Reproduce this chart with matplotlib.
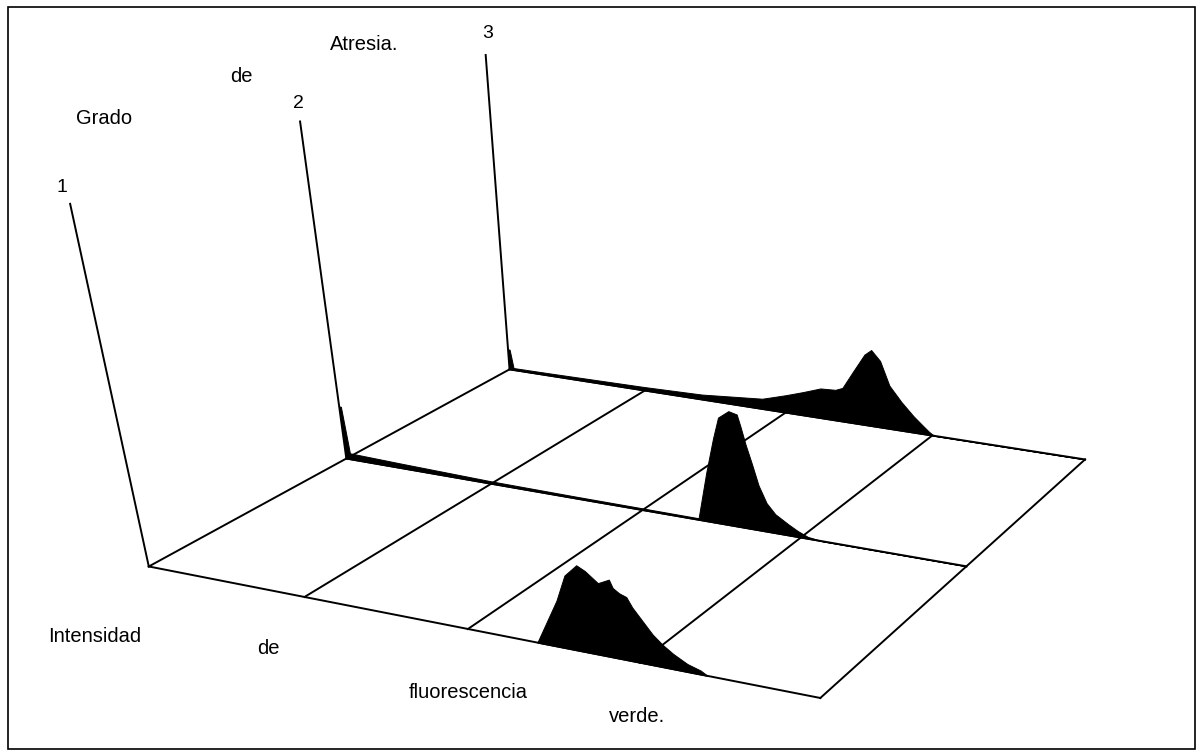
import numpy as np
import matplotlib
matplotlib.use('Agg')
import matplotlib.pyplot as plt
from mpl_toolkits.mplot3d.art3d import Poly3DCollection
from matplotlib.patches import Rectangle

# ---------------- data ----------------
grades = [1, 2, 3]                      # grado de atresia (depth axis)
grade_labels = ["1", "2", "3"]
grid_x = [0, 256, 512, 768, 1024]       # intensidad de fluorescencia (channels)
z_top = 100                             # height of the vertical (count) axes

# histogram, grade 1
h1_x = [617, 650, 664, 682, 694, 712, 728, 733, 742, 752, 760, 774, 788, 802, 817, 837, 856, 866]
h1_y = [0, 13.8, 21.6, 25.2, 24, 21.2, 22.8, 20.6, 19.4, 18.7, 16, 12.6, 9.2, 6.7, 4.6, 2.4, 1.2, 0]

# histogram, grade 2
h2_x = [0, 3, 8, 100, 256, 400, 600, 604, 617, 628, 636, 652, 665, 671, 679, 689, 700, 713, 727,
        748, 763, 779, 802, 1024]
h2_y = [17, 17, 2, 1.5, 0.8, 0.6, 0.5, 0.5, 15.4, 26.2, 32.8, 35.2, 34.6, 31.1, 26, 20.5, 14.1, 9,
        6, 3.5, 1.9, 0.6, 0, 0]

# histogram, grade 3
h3_x = [0, 3, 8, 80, 256, 361, 470, 511, 542, 572, 598, 610, 627, 645, 656, 672, 690, 712, 734,
        751, 762, 771, 1024]
h3_y = [7, 7, 0.7, 0.8, 1.2, 1.7, 3.5, 5.9, 7.9, 10, 10.3, 11.3, 17.2, 23.3, 25.1, 22, 14.4, 9.6,
        5.5, 2.8, 1.1, 0, 0]

# ---------------- figure / camera ----------------
W, H = 1203, 755
fig = plt.figure(figsize=(W / 100, H / 100), dpi=100)
fig.patch.set_facecolor('white')

L_px, left_px, bottom_px = 425.44, 525.83, -1545.47
ax = fig.add_axes([left_px / W, bottom_px / H, L_px / W, L_px / H], projection='3d')
ax.set_axis_off()
ax.view_init(elev=56.73364, azim=-65.73287, roll=-0.86667)
ax.set_proj_type('persp', focal_length=float(np.exp(-0.27137)))
ax.set_box_aspect((1, float(np.exp(0.00553)), float(np.exp(-1.07138))))
cx, cz = 715.45032, -1169.88457
ax.set_xlim(cx - 512, cx + 512)
ax.set_ylim(1, 3)
ax.set_zlim(cz - 50, cz + 50)
ax.set_autoscale_on(False)

lc = 'black'
lw = 1.4
# floor grid
for g in grades:
    ax.plot([grid_x[0], grid_x[-1]], [g, g], [0, 0], color=lc, lw=lw, clip_on=False)
for gx in grid_x:
    ax.plot([gx, gx], [grades[0], grades[-1]], [0, 0], color=lc, lw=lw, clip_on=False)
# vertical axes
for g in grades:
    ax.plot([0, 0], [g, g], [0, z_top], color=lc, lw=lw, clip_on=False)

# histograms
for g, hx, hy in [(1, h1_x, h1_y), (2, h2_x, h2_y), (3, h3_x, h3_y)]:
    verts = [(x, g, z) for x, z in zip(hx, hy)] + [(hx[-1], g, 0), (hx[0], g, 0)]
    pc = Poly3DCollection([verts], facecolor='black', edgecolor='black', linewidth=0.7)
    pc.set_clip_on(False)
    ax.add_collection3d(pc)

# re-apply limits (plotting must not change the framing)
ax.set_xlim(cx - 512, cx + 512)
ax.set_ylim(1, 3)
ax.set_zlim(cz - 50, cz + 50)

# ---------------- texts ----------------
font = 'Liberation Sans'

def ftext(px, py, s, size=14.5):
    fig.text(px / W, 1 - py / H, s, ha='center', va='center', fontsize=size, family=font)

for (px, py), lab in zip([(62, 188), (298, 104), (488, 33)], grade_labels):
    ftext(px, py, lab, 14)

ftext(104, 118, "Grado")
ftext(241, 76, "de")
ftext(364, 45, "Atresia.")
ftext(95, 636, "Intensidad")
ftext(268, 648, "de")
ftext(468, 692, "fluorescencia")
ftext(637, 717, "verde.")

fig.patches.append(Rectangle((8 / W, 1 - 749 / H), 1187 / W, 742 / H, transform=fig.transFigure,
                             fill=False, edgecolor='black', lw=1.2))

fig.savefig('out.png', dpi=100)
